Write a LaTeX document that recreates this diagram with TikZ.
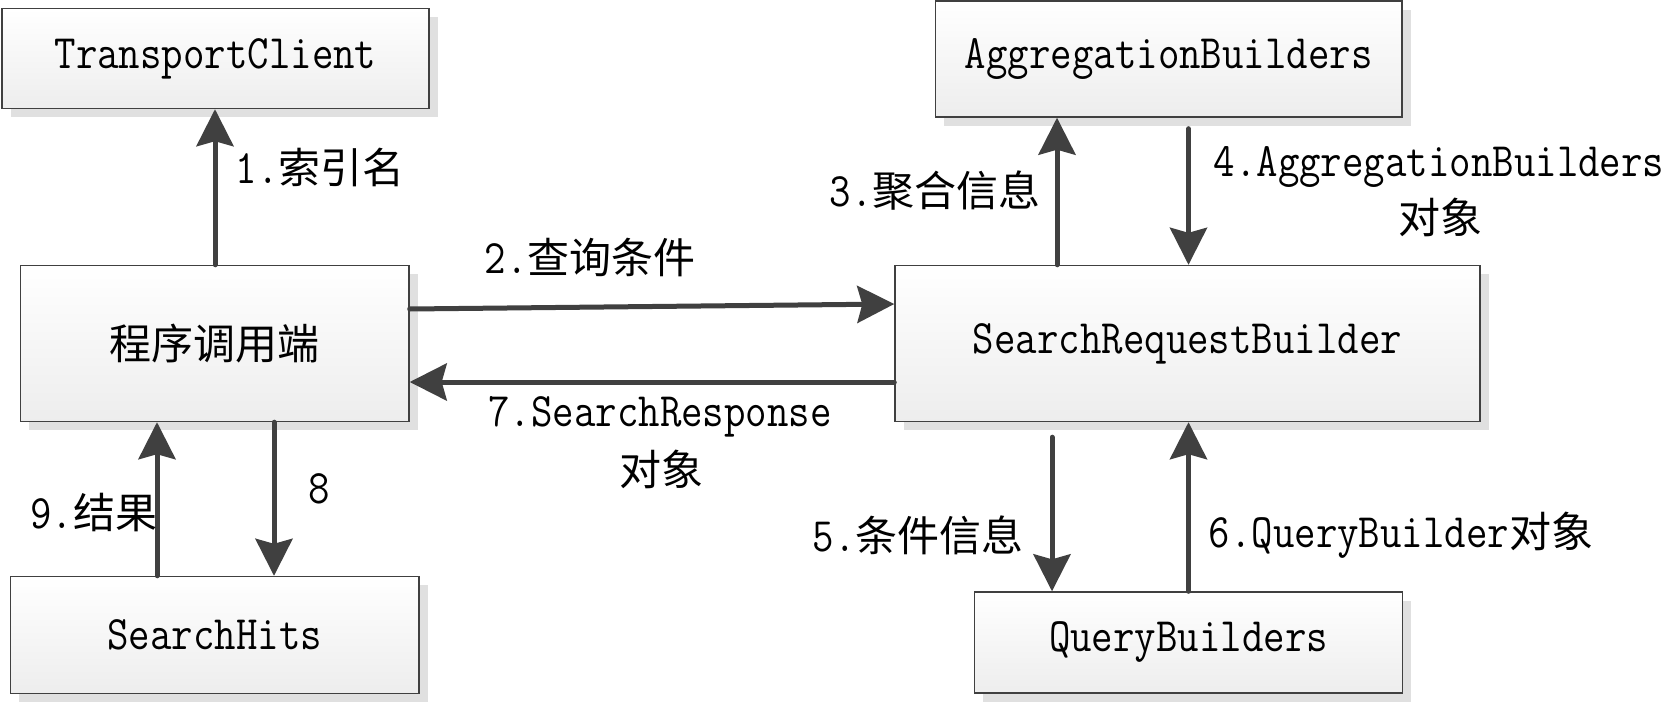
\documentclass[tikz,border=0pt]{standalone}
\usepackage{fontspec}
\setmonofont[FakeStretch=0.868]{Latin Modern Mono}
\newfontfamily\cjkfam{Noto Sans CJK SC}
\newcommand\zhc[1]{{\cjkfam\fontsize{21pt}{26pt}\selectfont #1}}
\usetikzlibrary{arrows.meta,shadows}
\definecolor{dk}{HTML}{404040}
\begin{document}
\begin{tikzpicture}[x=0.5pt,y=-0.5pt,
  font=\ttfamily\fontsize{24pt}{28pt}\selectfont,
  box/.style={rectangle, inner sep=0pt, draw=dk, line width=0.7pt,
    top color=white, bottom color=black!7,
    drop shadow={shadow xshift=4.25pt, shadow yshift=-4.25pt, fill=black!12, opacity=1}},
  arr/.style={draw=dk, line width=2.5pt, line cap=round,
    -{Stealth[length=18.5pt,width=18.5pt,inset=2.5pt]}},
  lbl/.style={inner sep=0pt, text=black}]
\useasboundingbox[fill=white] (0,0) rectangle (1667,702);

\node[box, minimum width=213.5pt, minimum height=50pt] (tc) at (215.5,58.5) {TransportClient};
\node[box, minimum width=233.25pt, minimum height=58pt] (ag) at (1168.75,59) {AggregationBuilders};
\node[box, minimum width=194.25pt, minimum height=78pt] (pc) at (214.75,343.5) {\zhc{程序调用端}};
\node[box, minimum width=292.5pt, minimum height=78pt] (srb) at (1187.5,343.5) {SearchRequestBuilder};
\node[box, minimum width=204.25pt, minimum height=58.5pt] (sh) at (214.75,635) {SearchHits};
\node[box, minimum width=214pt, minimum height=50.5pt] (qb) at (1188.5,642.5) {QueryBuilders};

\coordinate (x1) at (215,0);
\coordinate (x3) at (1057,0);
\coordinate (x4) at (1188.5,0);
\coordinate (x5) at (1052,0);
\coordinate (x8) at (274,0);
\coordinate (x9) at (157,0);
\coordinate (y2a) at (0,309);
\coordinate (y2b) at (0,304);
\coordinate (y7) at (0,382);

\draw[arr] (pc.north -| x1) -- (tc.south -| x1);
\draw[arr] (pc.east |- y2a) -- (srb.west |- y2b);
\draw[arr] (srb.north -| x3) -- (ag.south -| x3);
\draw[arr, shorten <=5.5pt] (ag.south -| x4) -- (srb.north -| x4);
\draw[arr, shorten <=7.5pt] (srb.south -| x5) -- (qb.north -| x5);
\draw[arr] (qb.north -| x4) -- (srb.south -| x4);
\draw[arr] (srb.west |- y7) -- (pc.east |- y7);
\draw[arr] (pc.south -| x8) -- (sh.north -| x8);
\draw[arr] (sh.north -| x9) -- (pc.south -| x9);

\node[lbl] (l1) at (320,167) {1.\zhc{索引名}};
\node[lbl] (l2) at (590,257) {2.\zhc{查询条件}};
\node[lbl] (l3) at (935,191) {3.\zhc{聚合信息}};
\node[lbl] (l4) at (1439,167) {4.AggregationBuilders};
\node[lbl] (l4b) at (1440,217) {\zhc{对象}};
\node[lbl] (l5) at (918,535) {5.\zhc{条件信息}};
\node[lbl] (l6) at (1401,535) {6.QueryBuilder\zhc{对象}};
\node[lbl] (l7) at (660,417) {7.SearchResponse};
\node[lbl] (l7b) at (661,469) {\zhc{对象}};
\node[lbl] (l8) at (319,489) {8};
\node[lbl] (l9) at (94,513) {9.\zhc{结果}};
\end{tikzpicture}
\end{document}
